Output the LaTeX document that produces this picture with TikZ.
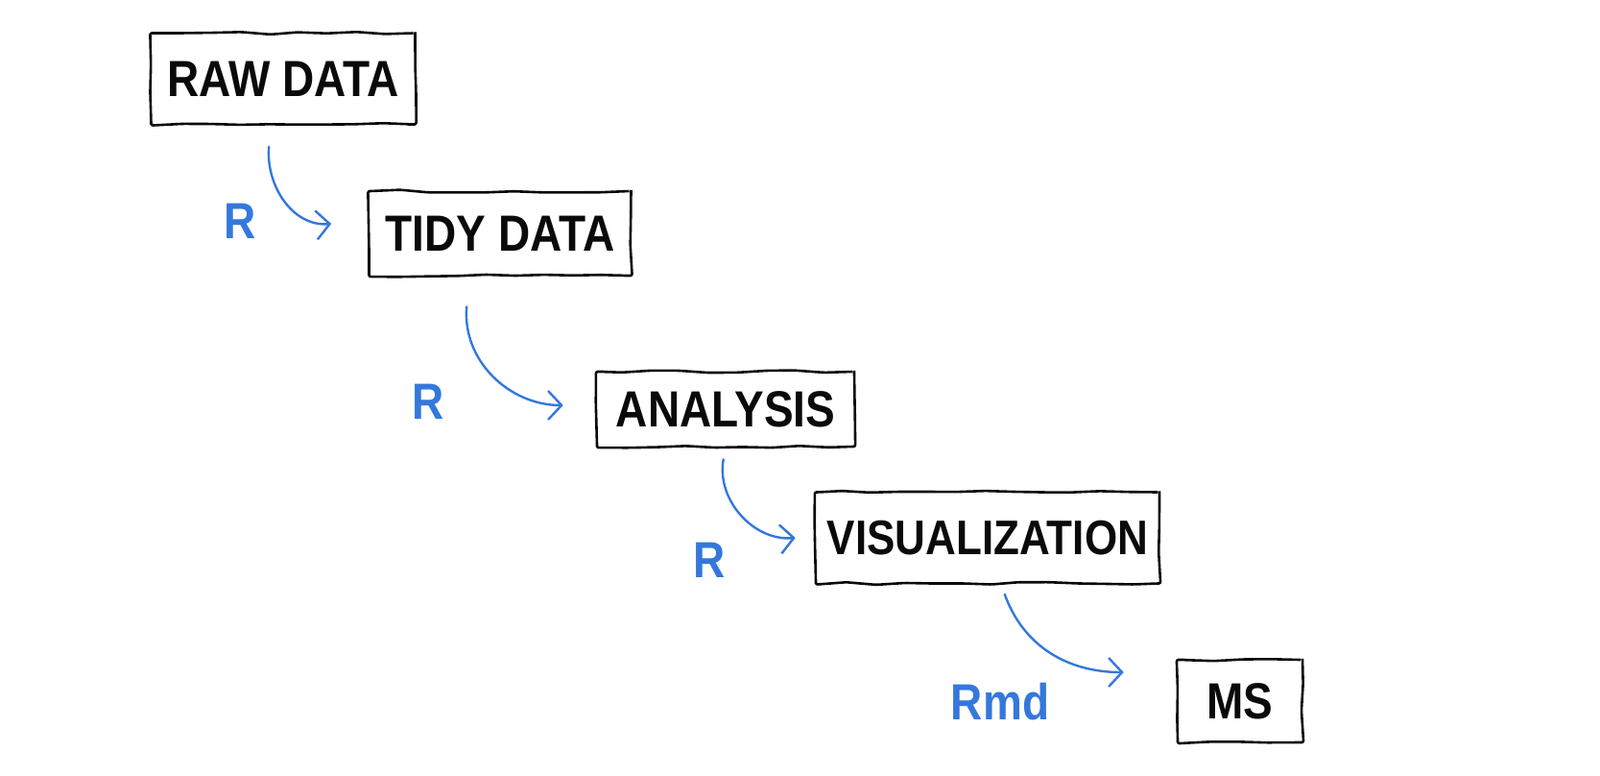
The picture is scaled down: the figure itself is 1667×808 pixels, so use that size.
\documentclass[tikz,border=0pt]{standalone}
\usepackage{fontspec}
\setmainfont{Liberation Sans}
\definecolor{skblue}{RGB}{52,120,220}
\definecolor{skink}{RGB}{10,10,10}
\usetikzlibrary{arrows.meta,positioning,calc,decorations.pathmorphing}
\newcommand{\tallcaps}[1]{\scalebox{1}[1.15]{#1}}

\begin{document}
\begin{tikzpicture}[x=1pt,y=-1pt,
  stagebox/.style={draw=skink,line width=2.6pt,rounded corners=2pt,
    decorate,decoration={random steps,segment length=30pt,amplitude=1.4pt},
    minimum height=88pt,inner sep=0pt,text=skink,
    font=\fontsize{46}{52}\selectfont\bfseries},
  toolflow/.style={-{Straight Barb[length=14pt,width=30pt,line width=2.4pt]},
    skblue,line width=2.4pt,line cap=round},
  toollabel/.style={text=skblue,font=\fontsize{46}{52}\selectfont\bfseries}
]
  \useasboundingbox (0,0) rectangle (1667,808);

  % Stages of the pipeline
  \node[stagebox,minimum width=275pt,minimum height=95pt] (raw) at (295,82) {\tallcaps{RAW DATA}};
  \node[stagebox,minimum width=273pt] (tidy) at (521,243) {\tallcaps{TIDY DATA}};
  \node[stagebox,minimum width=268pt,minimum height=78pt] (analysis) at (756,426) {\tallcaps{ANALYSIS}};
  \node[stagebox,minimum width=358pt,minimum height=95pt,
    font=\fontsize{44}{50}\selectfont\bfseries] (vis) at (1029,560) {\tallcaps{VISUALIZATION}};
  \node[stagebox,minimum width=130pt,minimum height=86pt] (ms) at (1292,730) {\tallcaps{MS}};

  % Tools between stages
  \draw[toolflow] ([xshift=124pt,yshift=-22pt]raw.south west)
    to[out=-95,in=185] ([xshift=-38pt,yshift=10pt]tidy.west);
  \node[toollabel] (r1) at (250,230) {\tallcaps{R}};

  \draw[toolflow] ([xshift=103pt,yshift=-31pt]tidy.south west)
    to[out=-95,in=180] ([xshift=-34pt,yshift=4pt]analysis.west);
  \node[toollabel] (r2) at (446,418) {\tallcaps{R}};

  \draw[toolflow] ([xshift=133pt,yshift=-12pt]analysis.south west)
    to[out=-100,in=185] ([xshift=-20pt]vis.west);
  \node[toollabel] (r3) at (739,583) {\tallcaps{R}};

  \draw[toolflow] ([xshift=198pt,yshift=-10pt]vis.south west)
    to[out=-70,in=180] ([xshift=-55pt,yshift=30pt]ms.west);
  \node[toollabel] (rmd) at (1042,731) {\tallcaps{Rmd}};
\end{tikzpicture}
\end{document}
